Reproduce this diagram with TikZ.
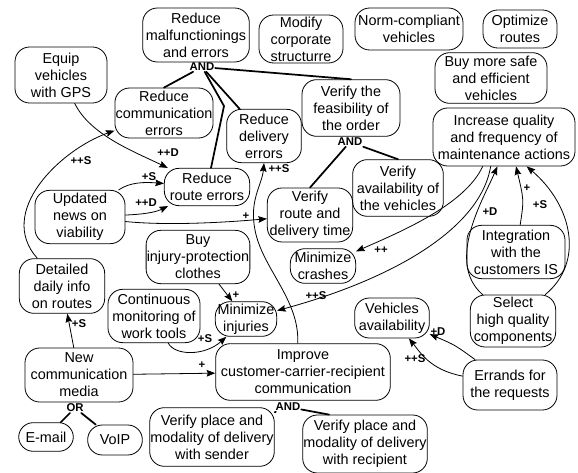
\documentclass[tikz,border=0pt]{standalone}
\usepackage{fontspec}
\setmainfont{Liberation Sans}
\usetikzlibrary{arrows.meta}

\tikzset{
  goal/.style={draw,rounded corners=11pt,align=center,inner xsep=0.5pt,inner ysep=1pt,line width=0.6pt},
  lbl/.style={font=\fontsize{8.5}{10}\selectfont\bfseries,inner sep=0.5pt},
  decomp/.style={line width=1.3pt},
  contrib/.style={-{Stealth[length=6.5pt,width=5pt,inset=1pt]},line width=0.6pt}
}

\begin{document}
\begin{tikzpicture}[x=0.75pt,y=-0.75pt,font=\fontsize{10.8}{12.8}\selectfont,line cap=round]
\useasboundingbox (0,0) rectangle (578,473);

% goals, top row
\node[goal,minimum width=80pt,minimum height=40.5pt] (rme) at (196,35) {Reduce\\malfunctionings\\and errors};
\node[goal,minimum width=63pt,minimum height=36pt] (mcs) at (301,39) {Modify\\corporate\\structurre};
\node[goal,minimum width=81pt,minimum height=31.5pt] (ncv) at (409,29) {Norm-compliant\\vehicles};
\node[goal,minimum width=55.5pt,minimum height=28.5pt] (opr) at (520,29) {Optimize\\routes};
\node[goal,minimum width=84pt,minimum height=38pt] (bsv) at (491,78) {Buy more safe\\and efficient\\vehicles};
\node[goal,minimum width=106.5pt,minimum height=43.5pt] (iqm) at (504,137) {Increase quality\\and frequency of\\maintenance actions};
\node[goal,minimum width=69pt,minimum height=42pt] (gps) at (61,75) {Equip\\vehicles\\with GPS};
\node[goal,minimum width=73.5pt,minimum height=37.5pt] (rce) at (164,113) {Reduce\\communication\\errors};
\node[goal,minimum width=56pt,minimum height=40pt] (rde) at (264,136) {Reduce\\delivery\\errors};
\node[goal,minimum width=73.5pt,minimum height=42.5pt] (vfo) at (351,108) {Verify the\\feasibility of\\the order};
\node[goal,minimum width=68pt,minimum height=42.5pt] (vav) at (398,188) {Verify\\availability of\\the vehicles};
\node[goal,minimum width=64pt,minimum height=28pt] (rre) at (207,187) {Reduce\\route errors};

% goals, middle
\node[goal,minimum width=67.5pt,minimum height=40pt] (unv) at (80,217) {Updated\\news on\\viability};
\node[goal,minimum width=64pt,minimum height=40.5pt] (vrd) at (310,215) {Verify\\route and\\delivery time};
\node[goal,minimum width=76pt,minimum height=40pt] (bip) at (198,257) {Buy\\injury-protection\\clothes};
\node[goal,minimum width=49pt,minimum height=26pt] (mcr) at (323,266) {Minimize\\crashes};
\node[goal,minimum width=73.5pt,minimum height=40pt] (ics) at (516,252) {Integration\\with the\\customers IS};
\node[goal,minimum width=64pt,minimum height=41pt] (ddi) at (62,286) {Detailed\\daily info\\on routes};
\node[goal,minimum width=69pt,minimum height=40pt] (cmw) at (154,316) {Continuous\\monitoring of\\work tools};
\node[goal,minimum width=46pt,minimum height=26pt] (min) at (246,319) {Minimize\\injuries};
\node[goal,minimum width=56pt,minimum height=30pt] (vab) at (392,318) {Vehicles\\availability};
\node[goal,minimum width=64pt,minimum height=39pt] (shq) at (513,321) {Select\\high quality\\components};

% goals, bottom
\node[goal,minimum width=81pt,minimum height=40.5pt] (ncm) at (79,375) {New\\communication\\media};
\node[goal,minimum width=131pt,minimum height=42.5pt] (icc) at (303,372) {Improve\\customer-carrier-recipient\\communication};
\node[goal,minimum width=70.5pt,minimum height=37.5pt] (err) at (510,385) {Errands for\\the requests};
\node[goal,minimum width=90pt,minimum height=44pt] (vps) at (212,437) {Verify place and\\modality of delivery\\with sender};
\node[goal,minimum width=93pt,minimum height=43.5pt] (vpr) at (365,444) {Verify place and\\modality of delivery\\with recipient};
\node[goal,minimum width=41pt,minimum height=21.5pt] (eml) at (46,437) {E-mail};
\node[goal,minimum width=41pt,minimum height=22.5pt] (vip) at (115,440) {VoIP};

% decompositions
\node[lbl] (andrme) at (202,67) {AND};
\node[lbl] (andvfo) at (350,142) {AND};
\node[lbl] (andicc) at (288,407) {AND};
\node[lbl] (orncm) at (75,408) {OR};
\draw[decomp] (andrme) -- (rce.north);
\draw[decomp] (andrme) -- (224,106) -- (rre);
\draw[decomp] (andrme) -- (rde);
\draw[decomp] (andrme) -- (vfo.north);
\draw[decomp] (andvfo) -- (vrd.north);
\draw[decomp] (andvfo) -- (vav.north);
\draw[decomp] (andicc) -- (vps);
\draw[decomp] (andicc) -- ([xshift=-27pt]vpr.north);
\draw[decomp] (orncm) -- (eml);
\draw[decomp] (orncm) -- (vip);

% contributions
\draw[contrib] (gps) .. controls (90,135) and (135,152) .. (rre);
\node[lbl] (l1) at (168,153) {++D};
\draw[contrib] (ddi) .. controls (-4,212) and (60,150) .. (rce);
\node[lbl] (l2) at (81,161) {++S};
\draw[contrib] (unv) .. controls (130,182) and (145,182) .. (rre);
\node[lbl] (l3) at (149,177) {+S};
\draw[contrib] (unv) .. controls (150,214) and (158,211) .. (rre);
\node[lbl] (l4) at (146,203) {++D};
\draw[contrib] (unv) .. controls (170,226) and (230,222) .. (vrd);
\node[lbl] (l5) at (246,216) {+};
\draw[contrib] ([xshift=-4pt]icc.north) .. controls (300,300) and (262,268) .. (255,230)
  .. controls (249,200) and (262,185) .. (rde.south);
\node[lbl] (l6) at (279,169) {++S};
\draw[contrib] (bip) -- (min);
\node[lbl] (l7) at (236,295) {+};
\draw[contrib] (cmw) .. controls (175,356) and (205,356) .. (min);
\node[lbl] (l8) at (205,339) {+S};
\draw[contrib] ([xshift=-16pt]iqm.south) .. controls (465,205) and (400,232) .. (mcr);
\node[lbl] (l9) at (381,250) {++};
\draw[contrib] ([xshift=-10pt]iqm.south) .. controls (480,230) and (390,280) .. (min);
\node[lbl] (l10) at (316,296) {++S};
\draw[contrib] (shq) .. controls (445,262) and (484,198) .. ([xshift=-5pt]iqm.south);
\node[lbl] (l11) at (490,212) {+D};
\draw[contrib] (shq) .. controls (585,262) and (572,205) .. ([xshift=17pt]iqm.south);
\node[lbl] (l12) at (540,205) {+S};
\draw[contrib] (ics) .. controls (524,200) .. ([xshift=9pt]iqm.south);
\node[lbl] (l13) at (527,188) {+};
\draw[contrib] (err) .. controls (455,345) .. (vab);
\node[lbl] (l14) at (438,332) {+D};
\draw[contrib] (err) .. controls (430,370) and (420,352) .. (vab);
\node[lbl] (l15) at (415,359) {++S};
\draw[contrib] (ncm) -- (ddi);
\node[lbl] (l16) at (79,324) {+S};
\draw[contrib] (ncm) -- (icc);
\node[lbl] (l17) at (202,365) {+};
\end{tikzpicture}
\end{document}
